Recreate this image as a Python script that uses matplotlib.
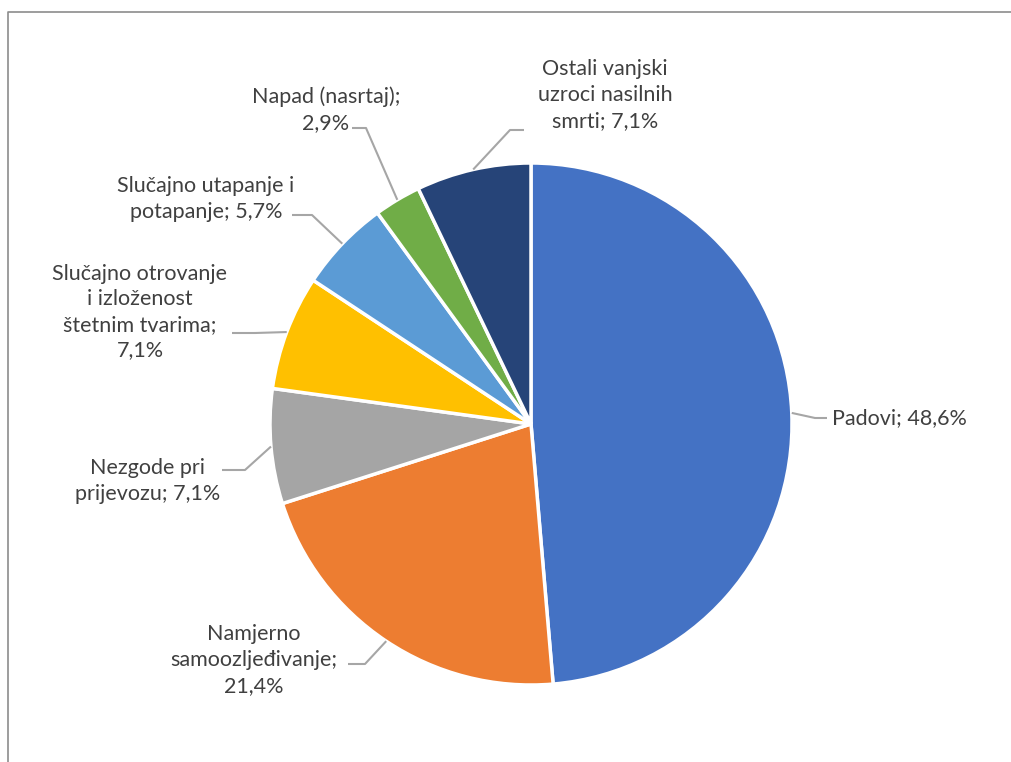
import numpy as np
import matplotlib.pyplot as plt

categories = [
    "Padovi; 48,6%",
    "Namjerno\nsamoozljeđivanje;\n21,4%",
    "Nezgode pri\nprijevozu; 7,1%",
    "Slučajno otrovanje\ni izloženost\nštetnim tvarima;\n7,1%",
    "Slučajno utapanje i\npotapanje; 5,7%",
    "Napad (nasrtaj);\n2,9%",
    "Ostali vanjski\nuzroci nasilnih\nsmrti; 7,1%",
]
values = [48.6, 21.4, 7.1, 7.1, 5.7, 2.9, 7.1]
colors = ["#4472C4", "#ED7D31", "#A5A5A5", "#FFC000", "#5B9BD5", "#70AD47", "#264478"]

W, H = 1011, 762
fig = plt.figure(figsize=(W / 100, H / 100), dpi=100)
ax = fig.add_axes([0, 0, 1, 1])

cx, cy, r = 531, H - 424, 261
ax.pie(values, colors=colors, startangle=90, counterclock=False,
       center=(cx, cy), radius=r, frame=True,
       wedgeprops=dict(edgecolor="white", linewidth=2.5))
ax.set_xlim(0, W)
ax.set_ylim(0, H)
ax.set_aspect("equal")
ax.axis("off")

# label layout: (elbow x, elbow y, line end x, text x, text y, ha)
layout = [
    (815, 418, 827, 832, 418, "left"),
    (365, 664, 348, 254, 660, "center"),
    (245, 470, 222, 148, 481, "center"),
    (255, 333, 232, 140, 312, "center"),
    (312, 215, 292, 206, 199, "center"),
    (366, 128, 352, 326, 110, "center"),
    (510, 130, 524, 605, 95, "center"),
]

total = sum(values)
start = 90.0
for v, lab, (ex, ey, hx, tx, ty, ha) in zip(values, categories, layout):
    mid = np.deg2rad(start - v / total * 180.0)
    start -= v / total * 360.0
    px = cx + r * np.cos(mid)
    py = cy + r * np.sin(mid)
    ax.plot([px, ex, hx], [py, H - ey, H - ey], color="#A6A6A6", lw=1.5,
            solid_capstyle="butt", zorder=1)
    ax.text(tx, H - ty, lab, ha=ha, va="center", fontsize=15.5,
            family="Lato", color="#404040", linespacing=1.35)

# chart area border (cropped on right and bottom)
ax.plot([8, 8, W], [0, H - 12, H - 12], color="#8C8C8C", lw=1.2)

fig.savefig("out.png", dpi=100)
